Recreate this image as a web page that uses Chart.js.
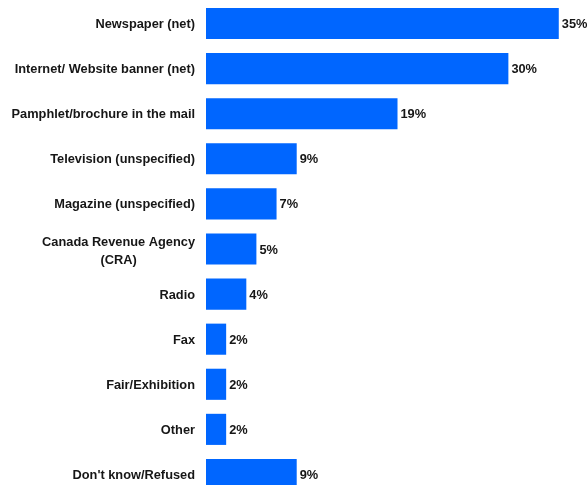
<!DOCTYPE html>
<html>
<head>
<meta charset="utf-8">
<script src="https://cdn.jsdelivr.net/npm/chart.js@4"></script>
<style>
  html, body { margin: 0; padding: 0; background: #fff; overflow: hidden; }
  #wrap { position: relative; width: 587px; height: 497px; }
</style>
</head>
<body>
<div id="wrap"><canvas id="chart"></canvas></div>
<script>
// --- data ---
const categories = [
  "Newspaper (net)",
  "Internet/ Website banner (net)",
  "Pamphlet/brochure in the mail",
  "Television (unspecified)",
  "Magazine (unspecified)",
  ["Canada Revenue Agency", "(CRA)"],
  "Radio",
  "Fax",
  "Fair/Exhibition",
  "Other",
  "Don't know/Refused"
];
const percentValues = [35, 30, 19, 9, 7, 5, 4, 2, 2, 2, 9];

const FONT = "bold 12.8px 'Liberation Sans', Arial, sans-serif";
const TEXT_COLOR = "#161616";

// category names, right aligned; wrapped names are centred on their widest line
const categoryLabels = {
  id: "categoryLabels",
  afterDraw(chart) {
    const ctx = chart.ctx;
    const yScale = chart.scales.y;
    const right = chart.chartArea.left - 11;
    const lineHeight = 18;
    ctx.save();
    ctx.font = FONT;
    ctx.fillStyle = TEXT_COLOR;
    ctx.textBaseline = "middle";
    categories.forEach((label, i) => {
      const y = yScale.getPixelForValue(i) + 1;
      if (Array.isArray(label)) {
        const w = Math.max(...label.map(l => ctx.measureText(l).width));
        const cx = right - w / 2;
        ctx.textAlign = "center";
        const top = y - (label.length - 1) * lineHeight / 2 + 1;
        label.forEach((line, j) => ctx.fillText(line, cx, top + j * lineHeight));
      } else {
        ctx.textAlign = "right";
        ctx.fillText(label, right, y);
      }
    });
    ctx.restore();
  }
};

// percentage at the end of each bar
const valueLabels = {
  id: "valueLabels",
  afterDatasetsDraw(chart) {
    const ctx = chart.ctx;
    const meta = chart.getDatasetMeta(0);
    ctx.save();
    ctx.font = FONT;
    ctx.fillStyle = TEXT_COLOR;
    ctx.textAlign = "left";
    ctx.textBaseline = "middle";
    meta.data.forEach((bar, i) => {
      ctx.fillText(percentValues[i] + "%", bar.x + 3, bar.y + 1);
    });
    ctx.restore();
  }
};

new Chart(document.getElementById("chart"), {
  type: "bar",
  data: {
    labels: categories,
    datasets: [{
      data: percentValues,
      backgroundColor: "#0066ff",
      borderWidth: 0,
      categoryPercentage: 1,
      barPercentage: 0.69
    }]
  },
  options: {
    indexAxis: "y",
    responsive: true,
    maintainAspectRatio: false,
    animation: false,
    layout: { padding: { left: 206, top: 1, right: 0, bottom: 0 } },
    plugins: {
      legend: { display: false },
      tooltip: { enabled: false }
    },
    scales: {
      x: { display: false, min: 0, max: 37.8 },
      y: { display: false }
    }
  },
  plugins: [categoryLabels, valueLabels]
});
</script>
</body>
</html>
